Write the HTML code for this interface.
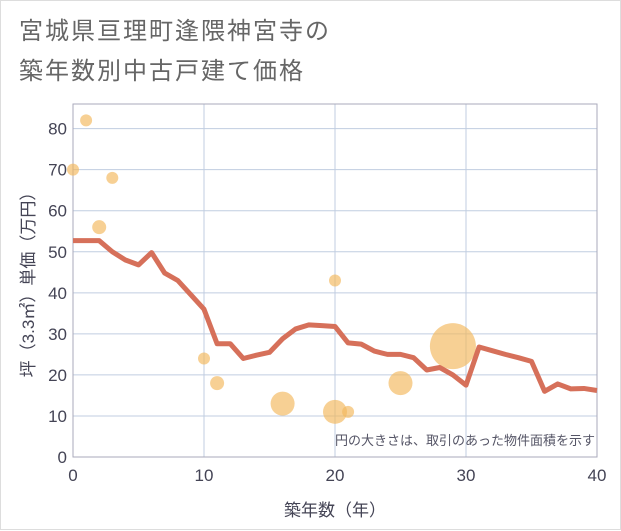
<!DOCTYPE html>
<html><head><meta charset="utf-8"><style>
body{margin:0;background:#fff;font-family:"Liberation Sans","Noto Sans CJK JP",sans-serif}
#wrap{position:relative;width:621px;height:530px;box-sizing:border-box;border:1px solid #ddd;background:#fff}
.title{position:absolute;left:18px;top:11px;font-size:24px;line-height:40px;color:#666;letter-spacing:2px}
</style></head><body>
<div id="wrap">
<div class="title">宮城県亘理町逢隈神宮寺の<br>築年数別中古戸建て価格</div>
<svg id="chart" width="621" height="530" style="position:absolute;left:0;top:0"></svg>
</div>
<script>
const xTicks=[0,10,20,30,40];
const yTicks=[0,10,20,30,40,50,60,70,80];
const lineYears=[0,1,2,3,4,5,6,7,8,9,10,11,12,13,14,15,16,17,18,19,20,21,22,23,24,25,26,27,28,29,30,31,32,33,34,35,36,37,38,39,40];
const linePrices=[52.7,52.7,52.7,50,48,46.8,49.8,44.8,43,39.5,36,27.6,27.6,24,24.8,25.5,28.8,31.2,32.2,32,31.8,27.8,27.5,25.8,25,25,24.2,21.2,21.8,20,17.5,26.8,25.9,25,24.2,23.3,16,17.8,16.6,16.7,16.2];
const bubbleYears=[0,1,2,3,10,11,16,20,20,21,25,29];
const bubblePrices=[70,82,56,68,24,18,13,43,11,11,18,27];
const bubbleSizes=[6,6,7,6,6,7,12,6,12,6,12,23];
const NS="http://www.w3.org/2000/svg";
const svg=document.getElementById('chart');
const L=72,R=596,T=103,B=456,xMax=40,yMax=86;
const sx=v=>L+(v/xMax)*(R-L);
const sy=v=>B-(v/yMax)*(B-T);
function mk(tag,attrs,parent){const e=document.createElementNS(NS,tag);for(const k in attrs)e.setAttribute(k,attrs[k]);(parent||svg).appendChild(e);return e;}
const grid=mk('g',{});


yTicks.forEach(v=>{
 const l=mk('line',{x1:L,x2:R,y1:sy(v),y2:sy(v),stroke:'#c0cde0','stroke-width':1},grid);
 
 
 const t=mk('text',{x:L-6,y:sy(v)+6,'text-anchor':'end','font-size':17,fill:'#445'});
 t.textContent=v;
 
 
});
xTicks.forEach(v=>{
 const l=mk('line',{x1:sx(v),x2:sx(v),y1:T,y2:B,stroke:'#c0cde0','stroke-width':1},grid);
 
 
 const t=mk('text',{x:sx(v),y:B+24,'text-anchor':'middle','font-size':17,fill:'#445'});
 t.textContent=v;
 
 
});
const frame=mk('rect',{x:L,y:T,width:R-L,height:B-T,fill:'none',stroke:'#aab','stroke-width':1});


const bg=mk('g',{});


bubbleYears.forEach((y,i)=>{
 const c=mk('circle',{cx:sx(y),cy:sy(bubblePrices[i]),r:bubbleSizes[i],fill:'rgba(242,183,90,0.65)'},bg);
 
 
});
const pts=lineYears.map((y,i)=>sx(y)+','+sy(linePrices[i])).join(' ');
const pl=mk('polyline',{points:pts,fill:'none',stroke:'#d6705a','stroke-width':5,'stroke-linejoin':'round'});


const note=mk('text',{x:R-2,y:B-12,'text-anchor':'end','font-size':13,fill:'#556'});
note.textContent='円の大きさは、取引のあった物件面積を示す';


const xt=mk('text',{x:(L+R)/2,y:515,'text-anchor':'middle','font-size':17,fill:'#445'});
xt.textContent='築年数（年）';


const yt=mk('text',{x:0,y:0,'text-anchor':'middle','font-size':17,fill:'#445',transform:'translate(33,'+((T+B)/2)+') rotate(-90)'});
yt.textContent='坪（3.3㎡）単価（万円）';


</script>
</body></html>
